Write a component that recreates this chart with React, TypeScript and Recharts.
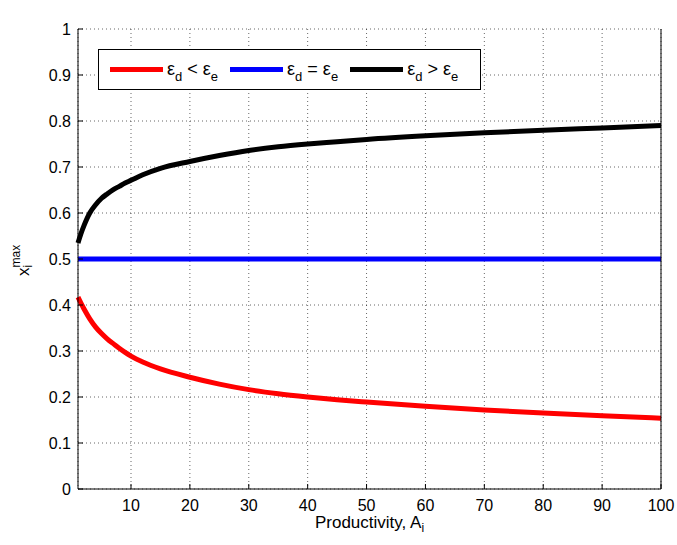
import { LineChart, Line, XAxis, YAxis, CartesianGrid, Legend } from "recharts";

// productivity A_i and the profit maximizing export share for the three cases
const productivity = [1, 1.5, 2, 3, 4, 5, 6, 7, 8, 9, 10, 12, 15, 20, 25, 30, 35, 40, 45, 50, 60, 70, 80, 90, 100];
const shareLess = [0.417, 0.404, 0.392, 0.37, 0.352, 0.338, 0.326, 0.316, 0.306, 0.297, 0.289, 0.276, 0.261, 0.243, 0.228, 0.216, 0.207, 0.2, 0.194, 0.189, 0.18, 0.172, 0.165, 0.159, 0.154];
const shareEqual = [0.5, 0.5, 0.5, 0.5, 0.5, 0.5, 0.5, 0.5, 0.5, 0.5, 0.5, 0.5, 0.5, 0.5, 0.5, 0.5, 0.5, 0.5, 0.5, 0.5, 0.5, 0.5, 0.5, 0.5, 0.5];
const shareGreater = [0.535, 0.555, 0.572, 0.6, 0.618, 0.632, 0.642, 0.651, 0.658, 0.665, 0.671, 0.683, 0.697, 0.712, 0.725, 0.736, 0.744, 0.75, 0.755, 0.76, 0.768, 0.7745, 0.78, 0.785, 0.79];

const xTicks = [10, 20, 30, 40, 50, 60, 70, 80, 90, 100];
const yTicks = [0, 0.1, 0.2, 0.3, 0.4, 0.5, 0.6, 0.7, 0.8, 0.9, 1];

const series = [
  { key: "less", color: "#ff0000", rel: "<" },
  { key: "equal", color: "#0000ff", rel: "=" },
  { key: "greater", color: "#000000", rel: ">" },
];

const data = productivity.map((a, i) => ({
  a,
  less: shareLess[i],
  equal: shareEqual[i],
  greater: shareGreater[i],
}));

const font = "'Liberation Sans', Arial, Helvetica, sans-serif";
const TICK = 5;

const LeftTick = (props: any) => {
  const { x, y, payload } = props;
  return (
    <g>
      <line x1={x + 7} x2={x + 7 + TICK} y1={y} y2={y} stroke="#000" />
      <text x={x} y={y} dy={6} textAnchor="end" fontSize={16} fontFamily={font} fill="#000">
        {String(payload.value)}
      </text>
    </g>
  );
};

const RightTick = (props: any) => {
  const { x, y } = props;
  return <line x1={x - TICK} x2={x} y1={y} y2={y} stroke="#000" />;
};

const BottomTick = (props: any) => {
  const { x, y, payload } = props;
  return (
    <g>
      <line x1={x} x2={x} y1={y - 10} y2={y - 10 - TICK} stroke="#000" />
      <text x={x} y={y} dy={12} textAnchor="middle" fontSize={16} fontFamily={font} fill="#000">
        {String(payload.value)}
      </text>
    </g>
  );
};

const TopTick = (props: any) => {
  const { x, y } = props;
  return <line x1={x} x2={x} y1={y} y2={y + TICK} stroke="#000" />;
};

const Title = ({ viewBox }: any) => (
  <text x={viewBox.x + viewBox.width / 2} y={viewBox.y - 12} textAnchor="middle" fontSize={15} fontFamily={font} fill="#000">
    Profit maximizing export share vs. Productivity
  </text>
);

const XTitle = ({ viewBox }: any) => (
  <text x={viewBox.x + viewBox.width / 2} y={viewBox.y + 39} textAnchor="middle" fontSize={17} fontFamily={font} fill="#000">
    Productivity, A<tspan fontSize={12} dy={4}>i</tspan>
  </text>
);

const YTitle = ({ viewBox }: any) => {
  const cy = viewBox.y + viewBox.height / 2;
  return (
    <text transform={`translate(29, ${cy + 17}) rotate(-90)`} fontSize={17} fontFamily={font} fill="#000">
      x<tspan fontSize={12} dy={3}>i</tspan>
      <tspan fontSize={12} dx={-2.7} dy={-12}>max</tspan>
    </text>
  );
};

const LegendBox = () => (
  <div
    style={{
      display: "flex",
      alignItems: "center",
      boxSizing: "border-box",
      height: 41,
      width: 383,
      border: "1px solid #000",
      background: "#fff",
      paddingLeft: 11,
      fontFamily: font,
      fontSize: 18,
      color: "#000",
    }}
  >
    {series.map((s) => (
      <div key={s.key} style={{ display: "flex", alignItems: "center", marginRight: 12 }}>
        <span style={{ display: "inline-block", width: 53, height: 5, background: s.color }} />
        <span style={{ marginLeft: 4, whiteSpace: "nowrap" }}>
          ε<span style={{ fontSize: 13, position: "relative", top: 6 }}>d</span> {s.rel} ε
          <span style={{ fontSize: 13, position: "relative", top: 6 }}>e</span>
        </span>
      </div>
    ))}
  </div>
);

export default function App() {
  return (
    <div style={{ position: "absolute", left: 0, top: 0, width: 677, height: 545, background: "#fff" }}>
      <LineChart width={677} height={545} data={data} margin={{ top: 29, right: 0, bottom: 0, left: 0 }}>
        <CartesianGrid stroke="#000" strokeOpacity={0.6} strokeDasharray="1 3" />
        <XAxis
          dataKey="a"
          type="number"
          domain={[1, 100]}
          ticks={xTicks}
          height={56}
          tickSize={0}
          tickMargin={10}
          tick={<BottomTick />}
          axisLine={{ stroke: "#000" }}
          tickLine={false}
          label={<XTitle />}
        />
        <XAxis
          xAxisId="top"
          orientation="top"
          dataKey="a"
          type="number"
          domain={[1, 100]}
          ticks={xTicks}
          height={0}
          tickSize={0}
          tickMargin={0}
          tick={<TopTick />}
          axisLine={{ stroke: "#000" }}
          tickLine={false}
          label={<Title />}
        />
        <YAxis
          type="number"
          domain={[0, 1]}
          ticks={yTicks}
          width={78}
          tickSize={0}
          tickMargin={7}
          tick={<LeftTick />}
          axisLine={{ stroke: "#000" }}
          tickLine={false}
          label={<YTitle />}
        />
        <YAxis
          yAxisId="right"
          orientation="right"
          type="number"
          domain={[0, 1]}
          ticks={yTicks}
          width={16}
          tickSize={0}
          tickMargin={0}
          tick={<RightTick />}
          axisLine={{ stroke: "#000" }}
          tickLine={false}
        />
        <Legend
          layout="horizontal"
          verticalAlign="middle"
          align="center"
          content={<LegendBox />}
          wrapperStyle={{ left: 98, top: 49, width: 383 }}
        />
        {series.map((s) => (
          <Line
            key={s.key}
            dataKey={s.key}
            type="monotone"
            stroke={s.color}
            strokeWidth={5}
            dot={false}
            activeDot={false}
            isAnimationActive={false}
          />
        ))}
      </LineChart>
    </div>
  );
}
